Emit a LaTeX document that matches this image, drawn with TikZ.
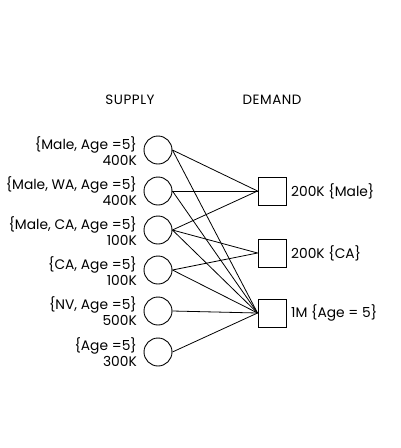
\documentclass[tikz,border=0pt]{standalone}
\usepackage{fontspec}
\setmainfont{Poppins}
\newfontfamily\headfont[LetterSpace=4]{Poppins}
\begin{document}
\begin{tikzpicture}[x=1pt,y=-1pt,
  sup/.style={circle,draw,line width=0.9pt,minimum size=28pt,inner sep=0pt},
  dem/.style={rectangle,draw,line width=0.9pt,minimum size=28pt,inner sep=0pt},
  lab/.style={align=right,font=\fontsize{13.8}{16.8}\selectfont,inner sep=0pt},
  dlab/.style={anchor=west,font=\fontsize{13.8}{16}\selectfont,inner sep=0pt},
  head/.style={font=\headfont\fontsize{13.5}{16}\selectfont,inner sep=0pt},
  edge/.style={line width=0.8pt}]
\useasboundingbox (0,0) rectangle (400,448);
\node[head] (hs) at (130,100) {SUPPLY};
\node[head] (hd) at (272,100) {DEMAND};
\node[sup] (c1) at (158,150) {};
\node[sup] (c2) at (158,191) {};
\node[sup] (c3) at (158,230) {};
\node[sup] (c4) at (158,270) {};
\node[sup] (c5) at (158,311) {};
\node[sup] (c6) at (158,352) {};
\node[lab,anchor=east] (l1) at (137,151) {\{Male, Age =5\}\\400K};
\node[lab,anchor=east] (l2) at (137,191) {\{Male, WA, Age =5\}\\400K};
\node[lab,anchor=east] (l3) at (137,231) {\{Male, CA, Age =5\}\\100K};
\node[lab,anchor=east] (l4) at (137,271) {\{CA, Age =5\}\\100K};
\node[lab,anchor=east] (l5) at (137,311) {\{NV, Age =5\}\\500K};
\node[lab,anchor=east] (l6) at (137,352) {\{Age =5\}\\300K};
\node[dem] (s1) at (272,191) {};
\node[dem] (s2) at (272,253) {};
\node[dem] (s3) at (272,313) {};
\node[dlab] (d1) at (291,191) {200K \{Male\}};
\node[dlab] (d2) at (291,253) {200K \{CA\}};
\node[dlab] (d3) at (291,313) {1M \{Age = 5\}};
\foreach \a/\b in {c1/s1,c1/s3,c2/s1,c2/s3,c3/s1,c3/s2,c3/s3,c4/s2,c4/s3,c5/s3,c6/s3}
  \draw[edge] (\a.east) -- (\b.west);
\end{tikzpicture}
\end{document}
